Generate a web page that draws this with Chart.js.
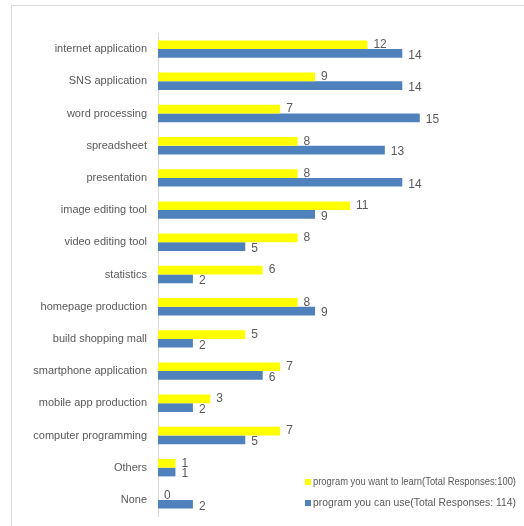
<!DOCTYPE html>
<html>
<head>
<meta charset="utf-8">
<script src="https://cdn.jsdelivr.net/npm/chart.js@4.4.1/dist/chart.umd.min.js"></script>
<style>
    html, body { margin: 0; padding: 0; background: #fff; overflow: hidden; }
    #wrap { position: relative; width: 524px; height: 526px; }
    #frame { position: absolute; left: 11px; top: 5px; width: 530px; height: 530px; border: 1px solid #d9d9d9; box-sizing: border-box; }
    canvas { position: absolute; left: 0; top: 0; }
</style>
</head>
<body>
<div id="wrap">
    <div id="frame"></div>
    <canvas id="chart" width="524" height="526"></canvas>
</div>
<script>
// Chart data
const categories = [
    'internet application', 'SNS application', 'word processing', 'spreadsheet',
    'presentation', 'image editing tool', 'video editing tool', 'statistics',
    'homepage production', 'build shopping mall', 'smartphone application',
    'mobile app production', 'computer programming', 'Others', 'None'
];
const wantToLearn = [12, 9, 7, 8, 8, 11, 8, 6, 8, 5, 7, 3, 7, 1, 0];
const canUse = [14, 14, 15, 13, 14, 9, 5, 2, 9, 2, 6, 2, 5, 1, 2];
const seriesNames = [
    'program you want to learn(Total Responses:100)',
    'program you can use(Total Responses: 114)'
];

const FONT = '"Liberation Sans", Arial, sans-serif';
const TEXT = '#595959';

// value labels at the end of each bar
const valueLabels = {
    id: 'valueLabels',
    afterDatasetsDraw(chart) {
        const ctx = chart.ctx;
        ctx.save();
        ctx.font = '12px ' + FONT;
        ctx.fillStyle = TEXT;
        ctx.textAlign = 'left';
        ctx.textBaseline = 'middle';
        chart.data.datasets.forEach((ds, i) => {
            chart.getDatasetMeta(i).data.forEach((bar, j) => {
                const dy = i === 0 ? 0 : 2;
                ctx.fillText(ds.data[j], bar.x + 6, bar.y + dy);
            });
        });
        ctx.restore();
    }
};

// legend at the bottom right
const cornerLegend = {
    id: 'cornerLegend',
    afterDraw(chart) {
        const ctx = chart.ctx;
        ctx.save();
        ctx.font = '10.5px ' + FONT;
        ctx.textBaseline = 'middle';
        chart.data.datasets.forEach((ds, i) => {
            const y = 482 + i * 21;
            ctx.fillStyle = ds.backgroundColor;
            ctx.fillRect(305, y - 3, 6, 6);
            ctx.fillStyle = TEXT;
            ctx.fillText(ds.label, 313, y, 203);
        });
        ctx.restore();
    }
};

new Chart(document.getElementById('chart'), {
    type: 'bar',
    data: {
        labels: categories,
        datasets: [{
            label: seriesNames[0],
            data: wantToLearn,
            backgroundColor: '#ffff00',
            barPercentage: 1,
            categoryPercentage: 0.54
        }, {
            label: seriesNames[1],
            data: canUse,
            backgroundColor: '#4f81bd',
            barPercentage: 1,
            categoryPercentage: 0.54
        }]
    },
    options: {
        indexAxis: 'y',
        responsive: false,
        animation: false,
        layout: { padding: { top: 33, bottom: 10, right: 17, left: 0 } },
        plugins: {
            legend: { display: false },
            tooltip: { enabled: false }
        },
        scales: {
            x: {
                display: false,
                min: 0,
                max: 20
            },
            y: {
                afterFit(axis) {
                    axis.width = 158;
                    axis.paddingTop = 0;
                    axis.paddingBottom = 0;
                },
                grid: { display: false, drawTicks: false },
                border: { color: '#d9d9d9' },
                ticks: {
                    color: TEXT,
                    padding: 11,
                    font: { family: FONT, size: 11 }
                }
            }
        }
    },
    plugins: [valueLabels, cornerLegend]
});
</script>
</body>
</html>
